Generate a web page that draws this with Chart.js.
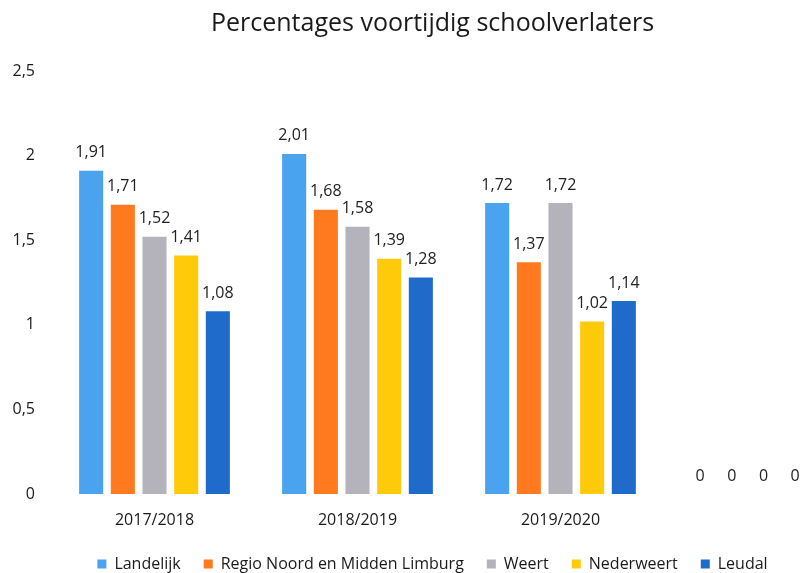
<!DOCTYPE html>
<html>
<head>
<meta charset="utf-8">
<script src="https://cdn.jsdelivr.net/npm/chart.js@4.4.1/dist/chart.umd.min.js"></script>
<style>
  html, body { margin: 0; padding: 0; background: #fff; overflow: hidden; }
  #wrap { width: 880px; height: 582px; }
</style>
</head>
<body>
<div id="wrap"><canvas id="schoolChart" width="880" height="582"></canvas></div>
<script>
// data
const years = ["2017/2018", "2018/2019", "2019/2020", ""];
const landelijk = [1.91, 2.01, 1.72, 0];
const regio = [1.71, 1.68, 1.37, 0];
const weert = [1.52, 1.58, 1.72, 0];
const nederweert = [1.41, 1.39, 1.02, 0];
const leudal = [1.08, 1.28, 1.14, 0];
const yTicks = [0, 0.5, 1, 1.5, 2, 2.5];

const fontFamily = "'Open Sans', 'Noto Sans', sans-serif";
const textColor = "#1a1a1a";

function commaNum(v) {
  return String(v).replace(".", ",");
}

// draws the value above each bar
const barLabels = {
  id: "barLabels",
  afterDatasetsDraw(chart) {
    const c = chart.ctx;
    c.save();
    c.font = "16px " + fontFamily;
    c.fillStyle = "#222222";
    c.textAlign = "center";
    c.textBaseline = "bottom";
    chart.data.datasets.forEach((ds, i) => {
      const meta = chart.getDatasetMeta(i);
      meta.data.forEach((bar, j) => {
        c.fillText(commaNum(ds.data[j]), bar.x, bar.y - 10);
      });
    });
    c.restore();
  },
};

const ctx = document.getElementById("schoolChart").getContext("2d");

new Chart(ctx, {
  type: "bar",
  data: {
    labels: years,
    datasets: [
      { label: "Landelijk", data: landelijk, backgroundColor: "#4aa3ee" },
      { label: "Regio Noord en Midden Limburg", data: regio, backgroundColor: "#ff7a1e" },
      { label: "Weert", data: weert, backgroundColor: "#b4b2ba" },
      { label: "Nederweert", data: nederweert, backgroundColor: "#ffca0a" },
      { label: "Leudal", data: leudal, backgroundColor: "#1e6bcb" },
    ],
  },
  options: {
    responsive: false,
    animation: false,
    layout: { padding: { left: 0, right: 15, top: 0, bottom: 0 } },
    datasets: {
      bar: { categoryPercentage: 0.78, barPercentage: 0.76 },
    },
    plugins: {
      title: {
        display: true,
        text: "Percentages voortijdig schoolverlaters",
        color: textColor,
        font: { family: fontFamily, size: 25, weight: "normal", lineHeight: 1.2 },
        padding: { top: 9, bottom: 32 },
      },
      legend: {
        position: "bottom",
        labels: {
          color: textColor,
          font: { family: fontFamily, size: 16, lineHeight: 1 },
          boxWidth: 9,
          boxHeight: 9,
          padding: 23,
        },
      },
      tooltip: { enabled: false },
    },
    scales: {
      y: {
        min: 0,
        max: 2.5,
        afterBuildTicks: (axis) => {
          axis.ticks = yTicks.map((v) => ({ value: v }));
        },
        afterFit: (axis) => {
          axis.width = 53;
        },
        ticks: {
          color: textColor,
          font: { family: fontFamily, size: 16 },
          padding: 18,
          callback: (v) => commaNum(v),
        },
        grid: { display: false, drawTicks: false },
        border: { display: false },
      },
      x: {
        afterFit: (axis) => {
          axis.height = 39;
        },
        ticks: {
          color: textColor,
          font: { family: fontFamily, size: 16 },
          padding: 17,
        },
        grid: { display: false, drawTicks: false },
        border: { display: false },
      },
    },
  },
  plugins: [barLabels],
});
</script>
</body>
</html>
